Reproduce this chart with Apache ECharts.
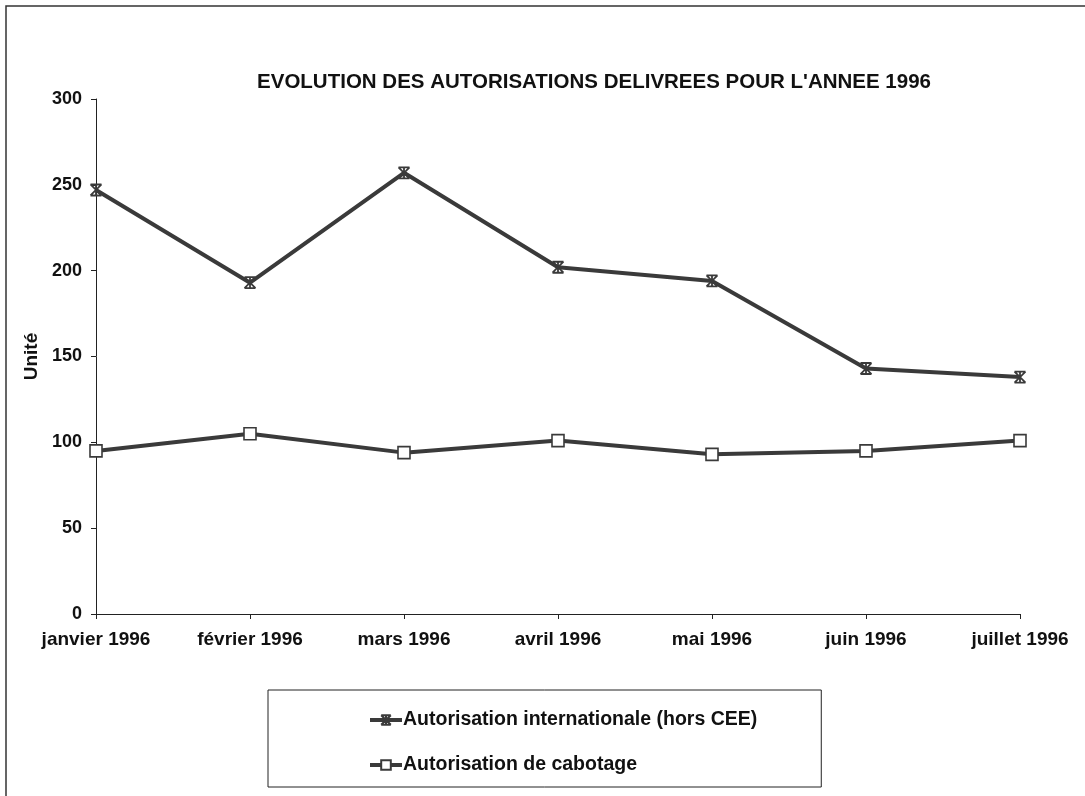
<!DOCTYPE html>
<html>
<head>
<meta charset="utf-8">
<script src="https://cdn.jsdelivr.net/npm/echarts@6/dist/echarts.min.js"></script>
<style>
  html, body { margin: 0; padding: 0; background: #fff; }
  #chart { width: 1085px; height: 796px; }
</style>
</head>
<body>
<div id="chart"></div>
<script>
// données
const mois = ['janvier 1996', 'février 1996', 'mars 1996', 'avril 1996', 'mai 1996', 'juin 1996', 'juillet 1996']
const internationale = [247, 193, 257, 202, 194, 143, 138]
const cabotage = [95, 105, 94, 101, 93, 95, 101]
const nomsSeries = ['Autorisation internationale (hors CEE)', 'Autorisation de cabotage']

const police = '"Liberation Sans", Arial, sans-serif'
const encre = '#3a3a3a'

// symbole étoile (X barré haut et bas)
const etoile = 'path://M0,0L10,10M10,0L0,10M0,0L10,0M0,10L10,10M5,0L5,10'

const chart = echarts.init(document.getElementById('chart'))

const option = {
  backgroundColor: '#fff',
  animation: false,
  title: {
    text: "EVOLUTION DES AUTORISATIONS DELIVREES POUR L'ANNEE 1996",
    left: 589,
    textAlign: 'center',
    top: 67,
    textStyle: { fontFamily: police, fontWeight: 'bold', fontSize: 20.5, color: '#111' }
  },
  graphic: [
    {
      type: 'rect',
      shape: { x: 6, y: 6, width: 1085, height: 800 },
      style: { fill: 'none', stroke: '#333', lineWidth: 1.5 },
      silent: true
    }
  ],
  legend: {
    orient: 'vertical',
    left: 268,
    top: 690,
    data: nomsSeries,
    padding: [20, 64, 12, 100],
    itemGap: 25,
    itemWidth: 32,
    itemHeight: 12,
    lineStyle: { width: 4 },
    borderColor: '#222',
    borderWidth: 1,
    textStyle: { fontFamily: police, fontWeight: 'bold', fontSize: 19.5, color: '#111', padding: [0, 0, 0, -4] }
  },
  grid: { left: 96, right: 65, top: 99, bottom: 182 },
  xAxis: {
    type: 'category',
    data: mois,
    boundaryGap: false,
    axisLine: { lineStyle: { color: '#222', width: 1 } },
    axisTick: { length: 5, lineStyle: { color: '#222' } },
    axisLabel: { fontFamily: police, fontWeight: 'bold', fontSize: 19, color: '#111', margin: 16 }
  },
  yAxis: {
    type: 'value',
    min: 0,
    max: 300,
    interval: 50,
    name: 'Unité',
    nameLocation: 'middle',
    nameGap: 54,
    nameRotate: 90,
    nameTextStyle: { fontFamily: police, fontWeight: 'bold', fontSize: 19, color: '#111' },
    axisLine: { show: true, lineStyle: { color: '#222', width: 1 } },
    axisTick: { show: true, length: 5, lineStyle: { color: '#222' } },
    splitLine: { show: false },
    axisLabel: { fontFamily: police, fontWeight: 'bold', fontSize: 18, color: '#111', margin: 14 }
  },
  series: [
    {
      name: nomsSeries[0],
      type: 'line',
      data: internationale,
      symbol: etoile,
      symbolSize: 11,
      lineStyle: { color: encre, width: 4 },
      itemStyle: { color: encre, borderColor: encre, borderWidth: 1.8 }
    },
    {
      name: nomsSeries[1],
      type: 'line',
      data: cabotage,
      symbol: 'rect',
      symbolSize: 12,
      lineStyle: { color: encre, width: 4 },
      itemStyle: { color: '#fff', borderColor: encre, borderWidth: 1.6 }
    }
  ]
}

chart.setOption(option)
</script>
</body>
</html>
